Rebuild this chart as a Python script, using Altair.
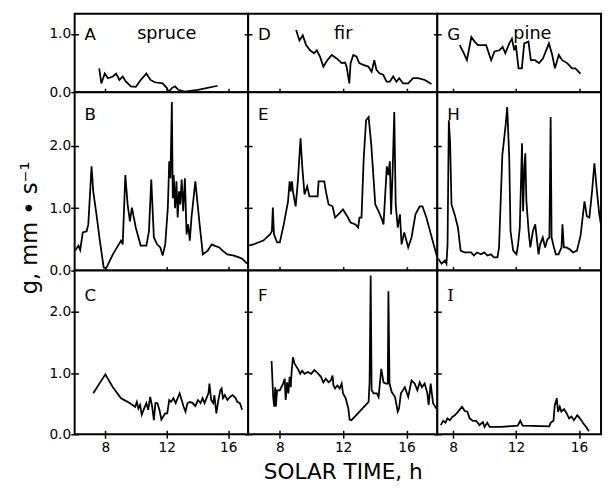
import altair as alt
import pandas as pd

# ---- data (solar time h, conductance mm/s) ----
A_t = [7.60, 7.74, 7.96, 8.17, 8.49, 8.70, 8.92, 9.13, 9.34, 9.66, 9.98, 10.30, 10.67, 10.94, 11.22, 11.73,
       12.01, 12.11, 12.33, 12.54, 12.75, 13.17, 14.03, 15.31]
A_g = [0.41, 0.15, 0.32, 0.24, 0.27, 0.32, 0.21, 0.27, 0.18, 0.10, 0.09, 0.21, 0.32, 0.21, 0.17, 0.15,
       0.07, 0.00, 0.07, 0.10, 0.04, 0.01, 0.04, 0.11]

B_t = [6.04, 6.25, 6.36, 6.53, 6.78, 6.89, 7.10, 7.21, 7.42, 7.64, 7.89, 8.06, 8.49, 9.02, 9.13, 9.30, 9.45,
       9.60, 9.73, 9.98, 10.30, 10.67, 10.84, 10.99, 11.16, 11.37, 11.58, 11.73, 11.90, 12.07, 12.16, 12.24,
       12.33, 12.39, 12.45, 12.54, 12.63, 12.71, 12.80, 12.88, 12.97, 13.07, 13.18, 13.29, 13.39, 13.50,
       13.61, 13.86, 14.14, 14.35, 14.67, 14.93, 15.10, 15.42, 15.63, 15.95, 16.38, 16.70, 16.91, 17.23]
B_g = [0.32, 0.40, 0.33, 0.61, 0.63, 0.74, 1.67, 1.27, 0.90, 0.48, 0.05, 0.04, 0.26, 0.48, 0.42, 1.53, 1.06,
       0.79, 1.01, 0.69, 0.40, 0.40, 0.63, 1.46, 0.53, 0.42, 0.37, 0.24, 0.42, 1.01, 1.75, 1.48,
       2.70, 1.16, 1.53, 1.00, 1.43, 0.85, 1.27, 1.06, 1.46, 0.95, 1.48, 0.58, 0.74, 0.48,
       0.85, 1.43, 0.74, 0.26, 0.32, 0.42, 0.40, 0.37, 0.32, 0.26, 0.24, 0.21, 0.19, 0.11]

C_t = [7.21, 8.00, 8.49, 9.02, 9.45, 9.77, 9.94, 10.05, 10.15, 10.26, 10.37, 10.52, 10.67, 10.79, 10.92,
       11.05, 11.16, 11.26, 11.39, 11.52, 11.65, 11.77, 11.90, 12.03, 12.16, 12.28, 12.43, 12.58, 12.71,
       12.84, 12.97, 13.10, 13.22, 13.35, 13.52, 13.69, 13.86, 14.03, 14.20, 14.33, 14.46, 14.59, 14.72,
       14.78, 14.89, 15.02, 15.10, 15.23, 15.36, 15.49, 15.57, 15.66, 15.78, 15.95, 16.12, 16.29, 16.49,
       16.59, 16.76, 16.91]
C_g = [0.67, 0.98, 0.77, 0.59, 0.53, 0.48, 0.45, 0.53, 0.42, 0.48, 0.32, 0.42, 0.51, 0.40, 0.61,
       0.45, 0.23, 0.51, 0.51, 0.40, 0.24, 0.29, 0.34, 0.34, 0.56, 0.53, 0.59, 0.51, 0.59,
       0.67, 0.56, 0.45, 0.37, 0.51, 0.53, 0.51, 0.46, 0.56, 0.51, 0.59, 0.51, 0.59, 0.68,
       0.83, 0.56, 0.51, 0.64, 0.34, 0.56, 0.72, 0.75, 0.59, 0.64, 0.56, 0.61, 0.64, 0.59,
       0.53, 0.51, 0.40]

D_t = [9.03, 9.24, 9.45, 9.66, 9.91, 10.16, 10.33, 10.54, 10.75, 11.00, 11.28, 11.59, 11.91, 12.12, 12.22,
       12.39, 12.47, 12.64, 12.85, 13.02, 13.27, 13.59, 13.80, 13.97, 14.11, 14.32, 14.53, 14.74, 14.95,
       15.16, 15.37, 15.54, 15.79, 16.11, 16.42, 16.74, 17.16, 17.58]
D_g = [1.07, 0.89, 0.98, 0.81, 0.72, 0.67, 0.72, 0.61, 0.44, 0.55, 0.64, 0.58, 0.50, 0.51, 0.44,
       0.15, 0.50, 0.64, 0.61, 0.50, 0.47, 0.44, 0.35, 0.55, 0.38, 0.32, 0.30, 0.18, 0.18,
       0.27, 0.18, 0.24, 0.15, 0.15, 0.24, 0.24, 0.21, 0.14]

E_t = [6.00, 6.34, 6.96, 7.38, 7.50, 7.56, 7.63, 7.83, 8.00, 8.25, 8.52, 8.62, 8.69, 8.77, 8.83, 9.00, 9.14,
       9.31, 9.41, 9.56, 9.73, 9.87, 10.18, 10.39, 10.45, 10.81, 10.91, 11.08, 11.33, 11.49, 11.70, 11.99,
       12.26, 12.47, 12.78, 12.95, 13.03, 13.16, 13.30, 13.45, 13.61, 13.78, 14.03, 14.24, 14.45, 14.55,
       14.76, 14.86, 14.95, 15.03, 15.13, 15.23, 15.32, 15.45, 15.59, 15.69, 15.86, 16.11, 16.32, 16.57,
       16.84, 17.01, 17.26, 17.46, 17.77, 17.94]
E_g = [0.40, 0.42, 0.48, 0.58, 0.63, 1.01, 0.58, 0.45, 0.45, 0.74, 1.11, 1.43, 1.27, 1.43, 1.27, 1.03, 1.43,
       2.12, 1.69, 1.22, 1.35, 1.19, 1.19, 1.19, 1.43, 1.43, 1.27, 1.06, 1.03, 0.85, 0.90, 0.98,
       0.87, 0.77, 0.74, 0.69, 0.85, 0.85, 1.80, 2.41, 2.46, 2.01, 1.06, 0.95, 0.82, 0.74,
       1.67, 1.53, 1.75, 0.90, 1.61, 2.54, 1.06, 0.69, 0.90, 0.42, 0.61, 0.37, 0.53, 0.90,
       1.03, 1.03, 0.85, 0.66, 0.37, 0.21]

F_t = [7.48, 7.58, 7.65, 7.71, 7.75, 7.83, 8.00, 8.21, 8.31, 8.37, 8.46, 8.54, 8.62, 8.69, 8.75, 8.83, 8.94,
       9.14, 9.29, 9.41, 9.56, 9.77, 9.98, 10.18, 10.39, 10.60, 10.75, 10.91, 11.08, 11.22, 11.33, 11.39,
       11.49, 11.64, 11.78, 11.91, 11.99, 12.16, 12.33, 12.41, 12.53, 13.61, 13.67, 13.74, 13.80, 13.93,
       14.13, 14.24, 14.41, 14.55, 14.70, 14.82, 14.86, 14.93, 15.07, 15.28, 15.45, 15.53, 15.65, 15.90,
       16.11, 16.32, 16.52, 16.69, 16.84, 16.98, 17.15, 17.32, 17.40, 17.53, 17.68, 17.89]
F_g = [1.20, 0.61, 0.45, 0.77, 0.45, 0.72, 0.72, 0.83, 0.91, 0.56, 0.85, 0.67, 0.94, 0.77, 1.04, 1.26, 1.15,
       1.07, 0.99, 1.04, 0.99, 1.02, 0.99, 1.05, 1.00, 0.94, 0.85, 0.91, 0.85, 0.88, 0.96, 0.80,
       0.75, 0.80, 0.75, 0.83, 0.67, 0.59, 0.42, 0.24, 0.23, 0.53, 0.85, 2.60, 0.72, 0.67,
       0.67, 0.61, 1.07, 0.85, 0.83, 0.83, 2.34, 0.83, 0.69, 0.61, 0.37, 0.42, 0.67, 0.77,
       0.61, 0.88, 0.83, 0.72, 0.85, 0.77, 0.83, 0.67, 0.48, 0.83, 0.51, 0.42]

G_t = [8.42, 8.63, 8.88, 9.16, 9.37, 9.58, 10.10, 10.42, 10.63, 10.94, 11.15, 11.32, 11.57, 11.74, 11.89,
       11.99, 12.16, 12.37, 12.52, 12.79, 12.94, 13.21, 13.46, 13.71, 14.09, 14.30, 14.47, 14.72, 14.93,
       15.25, 15.56, 15.77, 16.09]
G_g = [0.81, 0.70, 0.55, 0.95, 0.87, 0.81, 0.81, 0.55, 0.70, 0.72, 0.78, 0.67, 0.84, 0.92, 0.72,
       0.81, 0.41, 0.41, 0.84, 0.87, 0.55, 0.55, 0.50, 0.58, 0.84, 0.64, 0.41, 0.64, 0.55,
       0.50, 0.41, 0.41, 0.32]

H_t = [7.06, 7.27, 7.48, 7.58, 7.65, 7.73, 7.81, 7.90, 8.10, 8.31, 8.48, 8.73, 9.15, 9.32, 9.52, 9.77, 9.98,
       10.19, 10.40, 10.61, 10.82, 10.92, 11.13, 11.34, 11.44, 11.57, 11.65, 11.82, 12.03, 12.13, 12.24,
       12.38, 12.45, 12.53, 12.59, 12.66, 12.80, 12.91, 13.07, 13.22, 13.43, 13.53, 13.70, 13.85, 13.99,
       14.12, 14.20, 14.26, 14.41, 14.53, 14.70, 14.89, 14.95, 15.04, 15.20, 15.41, 15.62, 15.87, 16.10,
       16.35, 16.50, 16.66, 16.83, 16.98, 17.14, 17.29, 17.50]
H_g = [0.19, 0.11, 0.16, 0.11, 0.42, 2.41, 2.06, 1.06, 0.90, 0.69, 0.32, 0.29, 0.29, 0.24, 0.29, 0.26, 0.29,
       0.24, 0.26, 0.21, 0.21, 0.37, 1.85, 2.33, 2.62, 1.80, 0.63, 0.32, 0.26, 0.42, 0.69,
       2.04, 0.95, 1.64, 1.88, 1.11, 0.63, 0.37, 0.63, 0.74, 0.26, 0.42, 0.53, 0.37, 0.50,
       0.53, 2.46, 0.53, 0.37, 0.26, 0.26, 0.37, 0.74, 0.37, 0.37, 0.34, 0.29, 0.32, 0.56,
       1.11, 0.87, 0.85, 1.27, 1.72, 1.27, 0.90, 0.58]

I_t = [7.22, 7.37, 7.52, 7.64, 7.79, 7.94, 8.11, 8.32, 8.57, 8.74, 8.91, 9.05, 9.26, 9.47, 9.68, 9.89, 10.00,
       10.17, 10.32, 11.05, 12.11, 12.27, 12.42, 14.11, 14.21, 14.38, 14.46, 14.59, 14.67, 14.78, 14.88,
       15.05, 15.22, 15.37, 15.52, 15.68, 15.89, 16.06, 16.27, 16.48, 16.63]
I_g = [0.15, 0.22, 0.19, 0.26, 0.23, 0.28, 0.31, 0.37, 0.45, 0.38, 0.37, 0.26, 0.22, 0.22, 0.15, 0.20, 0.12,
       0.19, 0.12, 0.12, 0.14, 0.22, 0.14, 0.13, 0.19, 0.22, 0.47, 0.59, 0.37, 0.45, 0.37,
       0.41, 0.34, 0.26, 0.29, 0.23, 0.31, 0.26, 0.18, 0.11, 0.05]

letters = [["A", "D", "G"], ["B", "E", "H"], ["C", "F", "I"]]
species = ["spruce", "fir", "pine"]
series = [[(A_t, A_g), (D_t, D_g), (G_t, G_g)],
          [(B_t, B_g), (E_t, E_g), (H_t, H_g)],
          [(C_t, C_g), (F_t, F_g), (I_t, I_g)]]

x_ticks = [8, 12, 16]
y_ticks = [[0, 1], [0, 1, 2], [0, 1, 2]]
col_domains = [[6, 17.3], [6, 17.95], [7, 17.4]]
row_domains = [[0, 1.35], [0, 2.86], [0, 2.68]]
col_widths = [177, 193, 167]
row_heights = [80, 182, 167]
letter_y = [27, 28, 31]
species_x = [94, 97, 97]

FONT = "DejaVu Sans"


def panel(r, c):
    t, g = series[r][c]
    df = pd.DataFrame({"t": t, "g": g})
    xkw = dict(values=x_ticks, format="d", labels=(r == 2), tickSize=8, offset=-4, domain=False,
               grid=False, labelFontSize=14, labelPadding=3, tickColor="black", tickWidth=1.5,
               labelColor="black", labelFont=FONT)
    if r == 2 and c == 1:
        xkw.update(titleFontSize=22, titlePadding=7, titleFont=FONT, titleFontWeight="normal",
                   titleColor="black")
        xtitle = "SOLAR TIME, h"
    else:
        xtitle = None
    ykw = dict(values=y_ticks[r], format=".1f", labels=(c == 0), tickSize=8, offset=-4, domain=False,
               grid=False, labelFontSize=14, labelPadding=0, tickColor="black", tickWidth=1.5,
               labelColor="black", labelFont=FONT)
    if r == 1 and c == 0:
        ykw.update(titleFontSize=23, titlePadding=8, titleFont=FONT, titleFontWeight="normal",
                   titleColor="black", titleY=138)
        ytitle = "g,  mm • s⁻¹"
    else:
        ytitle = None
    line = alt.Chart(df).mark_line(color="black", strokeWidth=1.8, clip=True).encode(
        x=alt.X("t:Q", scale=alt.Scale(domain=col_domains[c], nice=False, zero=False),
                axis=alt.Axis(**xkw), title=xtitle),
        y=alt.Y("g:Q", scale=alt.Scale(domain=row_domains[r], nice=False),
                axis=alt.Axis(**ykw), title=ytitle),
    )
    lab = alt.Chart(pd.DataFrame({"lab": [letters[r][c]]})).mark_text(
        align="left", baseline="alphabetic", fontSize=17,
        font=("DejaVu Serif" if letters[r][c] == "I" else FONT), color="black"
    ).encode(text="lab:N", x=alt.value(10), y=alt.value(letter_y[r]))
    layers = [line, lab]
    if r == 0:
        sp = alt.Chart(pd.DataFrame({"sp": [species[c]]})).mark_text(
            align="center", baseline="alphabetic", fontSize=18, font=FONT, color="black"
        ).encode(text="sp:N", x=alt.value(species_x[c]), y=alt.value(26))
        layers.append(sp)
    return alt.layer(*layers).properties(
        width=col_widths[c], height=row_heights[r],
        view=alt.ViewBackground(stroke="black", strokeWidth=2, fill="white"),
    )


panels = [panel(r, c) for r in range(3) for c in range(3)]

chart = alt.concat(*panels, columns=3, spacing=0, bounds="flush").resolve_scale(
    x="independent", y="independent"
).properties(
    padding={"left": 9, "top": 0, "right": 0, "bottom": 0}
).configure_view(
    stroke="black", strokeWidth=2
).configure(font=FONT)

chart.save("out.html", embed_options={"renderer": "svg", "actions": False})
